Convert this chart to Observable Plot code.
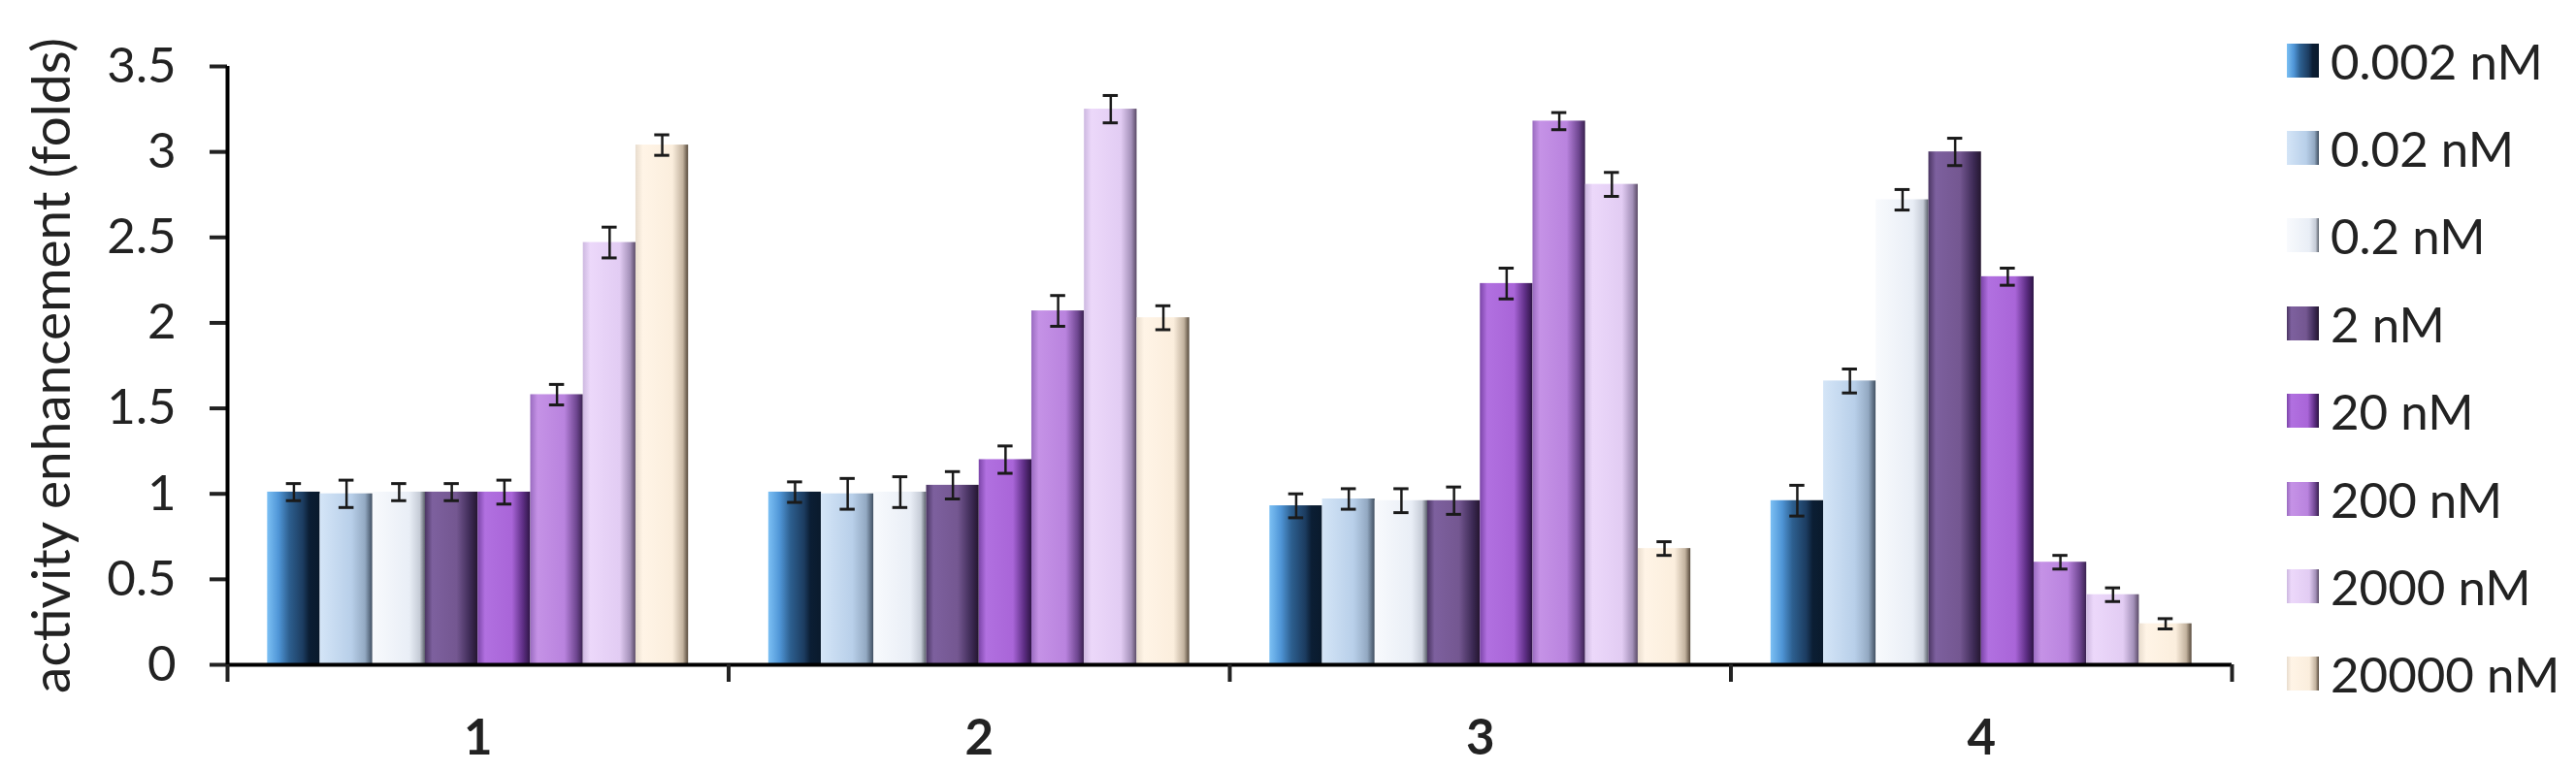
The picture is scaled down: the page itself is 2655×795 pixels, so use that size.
<!DOCTYPE html>
<html>
<head>
<meta charset="utf-8">
<script src="https://cdn.jsdelivr.net/npm/d3@7"></script>
<script src="https://cdn.jsdelivr.net/npm/@observablehq/plot@0.6"></script>
<style>
html, body { margin: 0; padding: 0; background: #fff; }
#wrap { position: relative; width: 2655px; height: 795px; overflow: hidden; font-family: Lato, sans-serif; }
#chart { position: absolute; left: 0; top: 0; }
#legend { position: absolute; left: 2357px; top: 17px; }
.lg-swatches { font-family: Lato, sans-serif !important; font-size: 51px !important; color: #222; margin: 0 !important; }
.lg-swatch { height: 90.4px; padding: 0 !important; }
.lg-swatch > svg { margin-right: 12px !important; }
</style>
</head>
<body>
<div id="wrap"><div id="chart"></div><div id="legend"></div></div>
<script>
// ---- data ----
const groups = ["1", "2", "3", "4"];
const series = ["0.002 nM", "0.02 nM", "0.2 nM", "2 nM", "20 nM", "200 nM", "2000 nM", "20000 nM"];
const values1 = [1.01, 1.00, 1.01, 1.01, 1.01, 1.58, 2.47, 3.04];
const values2 = [1.01, 1.00, 1.01, 1.05, 1.20, 2.07, 3.25, 2.03];
const values3 = [0.93, 0.97, 0.96, 0.96, 2.23, 3.18, 2.81, 0.68];
const values4 = [0.96, 1.66, 2.72, 3.00, 2.27, 0.60, 0.41, 0.24];
const errors1 = [0.05, 0.08, 0.05, 0.05, 0.07, 0.06, 0.09, 0.06];
const errors2 = [0.06, 0.09, 0.09, 0.08, 0.08, 0.09, 0.08, 0.07];
const errors3 = [0.07, 0.06, 0.07, 0.08, 0.09, 0.05, 0.07, 0.04];
const errors4 = [0.09, 0.07, 0.06, 0.08, 0.05, 0.04, 0.04, 0.03];
const yTicks = [0, 0.5, 1, 1.5, 2, 2.5, 3, 3.5];
const yLabel = "activity enhancement (folds)";

// ---- styles ----
const barGradients = [
  [[0, "#7cc0f4"], [0.22, "#4f95d6"], [0.42, "#2d5f8f"], [0.68, "#1c3c60"], [0.8, "#0b1e34"], [1, "#0a1a2c"]],
  [[0, "#d4e5f7"], [0.6, "#b8cfe9"], [0.86, "#93a9c2"], [1, "#3f4e60"]],
  [[0, "#f8fafd"], [0.7, "#e9eef6"], [0.9, "#c5cbd6"], [1, "#5a606a"]],
  [[0, "#4a3562"], [0.14, "#7d609e"], [0.6, "#745791"], [0.86, "#3d2a55"], [1, "#24162f"]],
  [[0, "#7b45a8"], [0.14, "#b170e0"], [0.65, "#a965d8"], [0.86, "#5e2e85"], [1, "#2e1545"]],
  [[0, "#9a6cc0"], [0.14, "#c592e6"], [0.65, "#b983de"], [0.88, "#6e4690"], [1, "#3a2250"]],
  [[0, "#cdb8e0"], [0.14, "#ecd8fa"], [0.7, "#e2ccf3"], [0.9, "#a390b8"], [1, "#5a4a66"]],
  [[0, "#e8dccd"], [0.14, "#fff4e6"], [0.7, "#fbeedd"], [0.9, "#c2b29e"], [1, "#55483a"]]
];

const valueRows = [values1, values2, values3, values4];
const errorRows = [errors1, errors2, errors3, errors4];
const data = groups.flatMap((g, gi) => series.map((s, si) => ({
  group: g, gi, series: s, si, value: valueRows[gi][si], err: errorRows[gi][si]
})));

const groupPad = 0.08;
const barW = (1 - 2 * groupPad) / series.length;
const capHalf = 0.015;
const bx1 = d => d.gi + groupPad + d.si * barW;
const bx2 = d => bx1(d) + barW;
const bxc = d => bx1(d) + barW / 2;

const chart = Plot.plot({
  width: 2340, height: 795,
  marginLeft: 234, marginRight: 40, marginTop: 68, marginBottom: 110,
  style: { fontFamily: "Lato, sans-serif", color: "#222", background: "transparent", overflow: "visible" },
  x: { domain: [0, groups.length], axis: null },
  y: { domain: [0, 3.5], axis: null },
  color: { domain: series, range: series.map((s, i) => `url(#grad${i})`) },
  marks: [
    Plot.rectY(data, { x1: bx1, x2: bx2, y1: 0, y2: "value", fill: "series" }),
    Plot.ruleX(data, { x: bxc, y1: d => d.value - d.err, y2: d => d.value + d.err, stroke: "#1a1a1a", strokeWidth: 2.5 }),
    Plot.ruleY(data, { y: d => d.value + d.err, x1: d => bxc(d) - capHalf, x2: d => bxc(d) + capHalf, stroke: "#1a1a1a", strokeWidth: 3 }),
    Plot.ruleY(data, { y: d => d.value - d.err, x1: d => bxc(d) - capHalf, x2: d => bxc(d) + capHalf, stroke: "#1a1a1a", strokeWidth: 3 }),
    Plot.axisY({ ticks: yTicks, tickSize: 18, tickPadding: 35, fontSize: 51, strokeWidth: 4, tickFormat: d => String(d), label: null }),
    Plot.ruleX([0], { y1: 0, y2: 3.5, strokeWidth: 4, stroke: "#000" }),
    Plot.ruleY([0], { x1: 0, x2: groups.length, strokeWidth: 4, stroke: "#000" }),
    Plot.axisX({ ticks: d3.range(groups.length + 1), tickSize: 18, tickFormat: () => "", strokeWidth: 4, label: null }),
    Plot.axisX({ ticks: groups.map((g, i) => i + 0.5), tickSize: 0, tickPadding: 56,
      tickFormat: d => groups[Math.floor(d)], fontSize: 51, fontWeight: "bold", label: null }),
    Plot.text([yLabel], { text: d => d, frameAnchor: "left", textAnchor: "middle", rotate: -90, dx: -180, fontSize: 55, fill: "#222" })
  ]
});

const svg = d3.select(chart);
const defs = svg.insert("defs", ":first-child");
barGradients.forEach((stops, i) => {
  const lg = defs.append("linearGradient").attr("id", `grad${i}`)
    .attr("x1", 0).attr("x2", 1).attr("y1", 0).attr("y2", 0);
  stops.forEach(([o, c]) => lg.append("stop").attr("offset", o).attr("stop-color", c));
});

document.getElementById("chart").appendChild(chart);
const legend = chart.legend("color", { className: "lg", columns: 1, swatchWidth: 33, swatchHeight: 35 });
document.getElementById("legend").appendChild(legend);
</script>
</body>
</html>
